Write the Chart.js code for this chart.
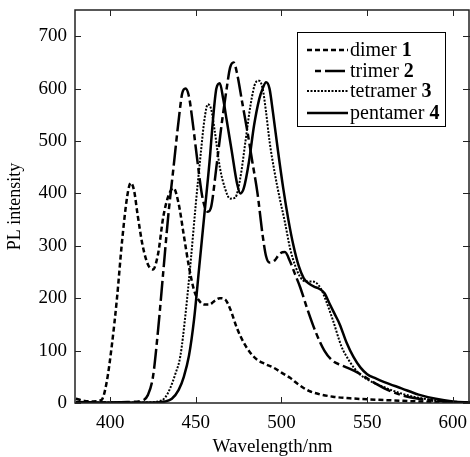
<!DOCTYPE html>
<html>
<head>
<meta charset="utf-8">
<script src="https://cdn.jsdelivr.net/npm/chart.js@4"></script>
<style>
  html, body { margin: 0; padding: 0; background: #fff; }
  canvas { display: block; }
</style>
</head>
<body>
<canvas id="plChart" width="470" height="457"></canvas>
<script>
// spectra (wavelength nm / PL intensity)
const dimerX = [380, 385, 390, 395, 398, 401, 404, 407, 410, 412, 414, 416, 419, 422, 425, 428, 431, 434, 437, 440, 443, 446, 449, 452, 455, 458, 461, 464, 467, 470, 474, 478, 482, 486, 490, 495, 500, 505, 510, 516, 522, 530, 540, 550, 565, 580, 595, 610];
const dimerY = [8, 4, 3, 6, 40, 110, 200, 310, 395, 420, 405, 360, 300, 265, 255, 285, 355, 395, 410, 380, 320, 260, 215, 195, 188, 188, 195, 200, 198, 180, 143, 115, 95, 82, 75, 68, 58, 48, 35, 23, 17, 12, 9, 7, 5, 3, 2, 1];

const trimerX = [380, 400, 410, 418, 422, 425, 428, 431, 434, 437, 440, 442, 444, 446, 448, 451, 454, 457, 459, 462, 465, 468, 470, 472, 474, 477, 480, 483, 486, 489, 491, 493, 496, 499, 502, 505, 508, 511, 515, 520, 525, 530, 535, 540, 545, 550, 555, 560, 570, 580, 590, 600, 610];
const trimerY = [2, 1, 2, 4, 15, 50, 140, 250, 360, 450, 540, 590, 600, 585, 540, 460, 390, 365, 375, 450, 530, 600, 640, 650, 630, 575, 520, 460, 400, 320, 280, 268, 272, 285, 288, 270, 245, 220, 180, 135, 100, 80, 72, 65, 57, 47, 37, 28, 15, 8, 4, 2, 1];

const tetramerX = [380, 420, 428, 432, 435, 438, 441, 444, 447, 450, 453, 455, 457, 459, 461, 464, 467, 470, 473, 476, 479, 482, 485, 487, 489, 491, 493, 496, 499, 502, 505, 508, 511, 514, 517, 520, 523, 526, 530, 535, 540, 545, 550, 560, 570, 580, 590, 600, 610];
const tetramerY = [1, 1, 3, 10, 28, 55, 90, 170, 270, 380, 480, 540, 570, 560, 520, 450, 410, 390, 392, 430, 500, 570, 612, 615, 600, 555, 500, 440, 390, 345, 295, 262, 240, 232, 232, 230, 218, 195, 158, 108, 78, 57, 45, 30, 18, 10, 5, 2, 1];

const pentamerX = [380, 425, 432, 436, 440, 443, 446, 449, 452, 455, 458, 460, 462, 464, 466, 468, 471, 474, 476, 478, 481, 484, 487, 489, 491, 493, 495, 498, 501, 504, 507, 510, 513, 516, 519, 522, 525, 528, 531, 534, 538, 542, 546, 550, 555, 560, 570, 580, 590, 600, 610];
const pentamerY = [1, 1, 3, 8, 25, 50, 90, 160, 260, 360, 460, 540, 600, 610, 580, 540, 480, 420, 400, 410, 460, 530, 580, 600, 612, 600, 555, 480, 410, 350, 300, 262, 238, 228, 222, 218, 210, 190, 170, 150, 115, 88, 68, 55, 47, 40, 28, 16, 8, 3, 1];

const seriesNames = ['dimer ', 'trimer ', 'tetramer ', 'pentamer '];
const seriesNumbers = ['1', '2', '3', '4'];
const xTicks = [400, 450, 500, 550, 600];
const yTicks = [0, 100, 200, 300, 400, 500, 600, 700];

const serif = '"Liberation Serif", "DejaVu Serif", serif';

function toPoints(xs, ys) {
  return xs.map((x, i) => ({ x: x, y: ys[i] }));
}

const lineStyles = [
  { dash: [5, 3], width: 2.5 },
  { dash: [20, 4, 6, 4], width: 2.5 },
  { dash: [2, 1.5], width: 2 },
  { dash: [], width: 2.5 }
];

const allX = [dimerX, trimerX, tetramerX, pentamerX];
const allY = [dimerY, trimerY, tetramerY, pentamerY];

const datasets = seriesNames.map((name, i) => ({
  label: name + seriesNumbers[i],
  data: toPoints(allX[i], allY[i]),
  borderColor: '#000',
  borderWidth: lineStyles[i].width,
  borderDash: lineStyles[i].dash,
  pointRadius: 0,
  fill: false,
  cubicInterpolationMode: 'monotone'
}));

// box frame, inward tick marks and the boxed legend
const framePlugin = {
  id: 'frame',
  afterDraw(chart) {
    const ctx = chart.ctx;
    const a = chart.chartArea;
    const xs = chart.scales.x;
    const ys = chart.scales.y;
    ctx.save();
    ctx.strokeStyle = '#222';
    ctx.lineWidth = 1.5;
    ctx.setLineDash([]);
    ctx.strokeRect(a.left, a.top, a.right - a.left - 1, a.bottom - a.top);
    ctx.lineWidth = 1;
    ctx.beginPath();
    xTicks.forEach(v => {
      const px = Math.round(xs.getPixelForValue(v)) + 0.5;
      ctx.moveTo(px, a.bottom); ctx.lineTo(px, a.bottom - 6);
      ctx.moveTo(px, a.top); ctx.lineTo(px, a.top + 6);
    });
    yTicks.forEach(v => {
      const py = Math.round(ys.getPixelForValue(v)) + 0.5;
      ctx.moveTo(a.left, py); ctx.lineTo(a.left + 6, py);
      ctx.moveTo(a.right, py); ctx.lineTo(a.right - 7, py);
    });
    ctx.stroke();

    // legend
    const bx = 297, by = 32, bw = 148, bh = 94;
    ctx.fillStyle = '#fff';
    ctx.fillRect(bx, by, bw, bh);
    ctx.strokeStyle = '#000';
    ctx.lineWidth = 1;
    ctx.strokeRect(bx + 0.5, by + 0.5, bw, bh);
    const rows = [50, 71, 91, 113];
    const lineStart = [307, 315, 307, 307];
    const dashOffset = [0, 24, 0, 0];
    rows.forEach((ry, i) => {
      ctx.beginPath();
      ctx.setLineDash(lineStyles[i].dash);
      ctx.lineDashOffset = dashOffset[i];
      ctx.lineWidth = lineStyles[i].width;
      ctx.moveTo(lineStart[i], ry);
      ctx.lineTo(348, ry);
      ctx.stroke();
      ctx.setLineDash([]);
      ctx.lineDashOffset = 0;
      ctx.fillStyle = '#000';
      ctx.textBaseline = 'middle';
      ctx.textAlign = 'left';
      ctx.font = '20px ' + serif;
      ctx.fillText(seriesNames[i], 350, ry + 1);
      const w = ctx.measureText(seriesNames[i]).width;
      ctx.font = 'bold 20px ' + serif;
      ctx.fillText(seriesNumbers[i], 350 + w, ry + 1);
    });
    ctx.restore();
  }
};

new Chart(document.getElementById('plChart').getContext('2d'), {
  type: 'line',
  data: { datasets: datasets },
  options: {
    responsive: false,
    animation: false,
    devicePixelRatio: 1,
    layout: { padding: { top: 10, right: 0, left: 0, bottom: 0 } },
    plugins: {
      legend: { display: false },
      tooltip: { enabled: false }
    },
    scales: {
      x: {
        type: 'linear',
        min: 379.5,
        max: 610,
        grid: { display: false, drawTicks: false },
        border: { display: false },
        afterBuildTicks: s => { s.ticks = xTicks.map(v => ({ value: v })); },
        afterFit: s => { s.height = 54; s.paddingLeft = 0; s.paddingRight = 0; },
        ticks: { color: '#000', padding: 9, font: { family: serif, size: 19 } },
        title: {
          display: true, text: 'Wavelength/nm', color: '#000',
          padding: { top: 0, bottom: 0 },
          font: { family: serif, size: 19, lineHeight: 1 }
        }
      },
      y: {
        min: 0,
        max: 750,
        grid: { display: false, drawTicks: false },
        border: { display: false },
        afterBuildTicks: s => { s.ticks = yTicks.map(v => ({ value: v })); },
        afterFit: s => { s.width = 75; s.paddingTop = 0; s.paddingBottom = 0; },
        ticks: { color: '#000', padding: 8, font: { family: serif, size: 19 } },
        title: { display: true, text: 'PL intensity', color: '#000', font: { family: serif, size: 18 } }
      }
    }
  },
  plugins: [framePlugin]
});
</script>
</body>
</html>
